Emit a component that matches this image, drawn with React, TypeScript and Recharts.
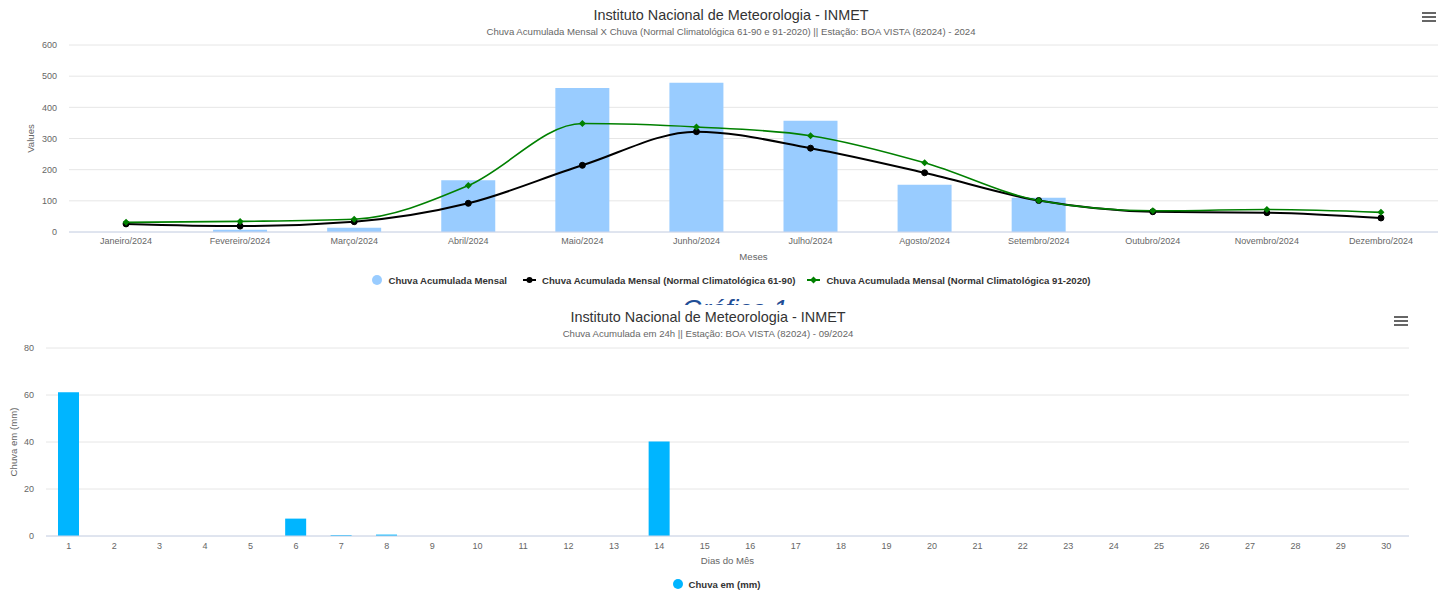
import { Bar, BarChart, CartesianGrid, ComposedChart, Line, XAxis, YAxis } from "recharts";

const meses = ["Janeiro/2024", "Fevereiro/2024", "Março/2024", "Abril/2024", "Maio/2024", "Junho/2024", "Julho/2024", "Agosto/2024", "Setembro/2024", "Outubro/2024", "Novembro/2024", "Dezembro/2024"];
const chuvaMensal = [0, 7, 14, 166, 462, 479, 357, 152, 110, 0, 0, 0];
const normal6190 = [26, 19, 33, 92, 214, 322, 269, 190, 101, 65, 62, 45];
const normal9120 = [31, 34, 41, 149, 348, 337, 309, 222, 101, 68, 72, 63];
const ticksMensal = [0, 100, 200, 300, 400, 500, 600];

const dias = ["1", "2", "3", "4", "5", "6", "7", "8", "9", "10", "11", "12", "13", "14", "15", "16", "17", "18", "19", "20", "21", "22", "23", "24", "25", "26", "27", "28", "29", "30"];
const chuvaDia = [61.2, 0, 0, 0, 0, 7.4, 0.4, 0.6, 0, 0, 0, 0, 0, 40.2, 0, 0, 0, 0, 0, 0, 0, 0, 0, 0, 0, 0, 0, 0, 0, 0];
const ticksDia = [0, 20, 40, 60, 80];

const FONT = "Arial, 'Liberation Sans', Helvetica, sans-serif";
const GREEN = "#008000";

const dataMensal = meses.map((mes, i) => ({
  mes,
  chuva: chuvaMensal[i],
  n6190: normal6190[i],
  n9120: normal9120[i],
}));

const dataDia = dias.map((dia, i) => ({ dia, chuva: chuvaDia[i] }));

const tick = { fontSize: 9, fill: "#666666", fontFamily: FONT };

function Diamond(props: any) {
  const { cx, cy } = props;
  if (cx == null || cy == null) return null;
  const r = 3.5;
  return <path d={`M${cx},${cy - r}L${cx + r},${cy}L${cx},${cy + r}L${cx - r},${cy}Z`} fill={GREEN}/>;
}

function Menu({ left, top }: { left: number, top: number }) {
  return (
    <div style={{ position: "absolute", left, top, width: 14 }}>
      {[0, 4, 8].map((y) => (
        <div key={y} style={{ position: "absolute", top: y, left: 0, width: 14, height: 2, background: "#666666" }}/>
      ))}
    </div>
  );
}

function Title({ top, center, title, subtitle }: { top: number, center: number, title: string, subtitle: string }) {
  return (
    <>
      <div style={{ position: "absolute", top, left: center - 400, width: 800, textAlign: "center", fontFamily: FONT, fontSize: 14.4, color: "#333333", lineHeight: "16px" }}>
        {title}
      </div>
      <div style={{ position: "absolute", top: top + 19, left: center - 400, width: 800, textAlign: "center", fontFamily: FONT, fontSize: 9.6, color: "#666666", lineHeight: "12px" }}>
        {subtitle}
      </div>
    </>
  );
}

const legendText = { fontFamily: FONT, fontSize: 9.6, fontWeight: "bold" as const, color: "#333333" };

export default function App() {
  return (
    <div style={{ position: "absolute", left: 0, top: 0, width: 1443, height: 590, background: "#ffffff", overflow: "hidden" }}>
      <Title top={7} center={731} title="Instituto Nacional de Meteorologia - INMET" subtitle="Chuva Acumulada Mensal X Chuva (Normal Climatológica 61-90 e 91-2020) || Estação: BOA VISTA (82024) - 2024"/>
      <Menu left={1422} top={12}/>

      <div style={{ position: "absolute", left: 0, top: 0 }}>
        <ComposedChart
          width={1443}
          height={262}
          data={dataMensal}
          margin={{ top: 45, right: 5, left: 0, bottom: 0 }}
          barCategoryGap={0}
        >
          <CartesianGrid vertical={false} stroke="#e6e6e6"/>
          <XAxis
            dataKey="mes"
            interval={0}
            height={30}
            tickLine={false}
            tickSize={0}
            tickMargin={6}
            axisLine={{ stroke: "#ccd6eb" }}
            tick={tick}
            label={{ value: "Meses", position: "insideBottom", offset: 2, style: { fontSize: 9.6, fill: "#666666", fontFamily: FONT } }}
          />
          <YAxis
            width={69}
            domain={[0, 600]}
            ticks={ticksMensal}
            tickLine={false}
            axisLine={false}
            tickSize={0}
            tickMargin={12}
            tick={tick}
            label={{ value: "Values", angle: -90, position: "insideLeft", offset: 31, style: { textAnchor: "middle", fontSize: 9.6, fill: "#666666", fontFamily: FONT } }}
          />
          <Bar dataKey="chuva" fill="#99ccff" barSize={54} isAnimationActive={false}/>
          <Line type="monotone" dataKey="n6190" stroke="#000000" strokeWidth={2} dot={{ r: 3, fill: "#000000", stroke: "#000000", strokeWidth: 1 }} isAnimationActive={false}/>
          <Line type="monotone" dataKey="n9120" stroke={GREEN} strokeWidth={1.6} dot={<Diamond/>} isAnimationActive={false}/>
        </ComposedChart>
      </div>

      <div style={{ position: "absolute", top: 274, left: 0, width: 1443, display: "flex", justifyContent: "center", alignItems: "center", paddingLeft: 20, boxSizing: "border-box", ...legendText }}>
        <svg width={12} height={12} style={{ marginRight: 4 }}><circle cx={5} cy={6} r={5} fill="#99ccff"/></svg>
        <span style={{ marginRight: 16 }}>Chuva Acumulada Mensal</span>
        <svg width={16} height={12} style={{ marginRight: 3 }}><line x1={0} y1={6} x2={13} y2={6} stroke="#000" strokeWidth={2}/><circle cx={6.5} cy={6} r={3} fill="#000"/></svg>
        <span style={{ marginRight: 12 }}>Chuva Acumulada Mensal (Normal Climatológica 61-90)</span>
        <svg width={16} height={12} style={{ marginRight: 3 }}><line x1={0} y1={6} x2={13} y2={6} stroke={GREEN} strokeWidth={2}/><path d="M6.5,2.5L10,6L6.5,9.5L3,6Z" fill={GREEN}/></svg>
        <span>Chuva Acumulada Mensal (Normal Climatológica 91-2020)</span>
      </div>

      <div style={{ position: "absolute", top: 295, left: 535, width: 400, height: 10, overflow: "hidden", textAlign: "center" }}>
        <div style={{ fontFamily: FONT, fontSize: 26, lineHeight: "26px", fontStyle: "italic", color: "#1f4e96", marginTop: 1 }}>Gráfico 1</div>
      </div>

      <Title top={309} center={708} title="Instituto Nacional de Meteorologia - INMET" subtitle="Chuva Acumulada em 24h || Estação: BOA VISTA (82024) - 09/2024"/>
      <Menu left={1394} top={316}/>

      <div style={{ position: "absolute", left: 0, top: 290 }}>
        <BarChart
          width={1443}
          height={280}
          data={dataDia}
          margin={{ top: 58, right: 34, left: 0, bottom: 0 }}
          barCategoryGap={0}
        >
          <CartesianGrid vertical={false} stroke="#e6e6e6"/>
          <XAxis
            dataKey="dia"
            interval={0}
            height={34}
            tickLine={false}
            tickSize={0}
            tickMargin={7}
            axisLine={{ stroke: "#ccd6eb" }}
            tick={tick}
            label={{ value: "Dias do Mês", position: "insideBottom", offset: 6, style: { fontSize: 9.6, fill: "#666666", fontFamily: FONT } }}
          />
          <YAxis
            width={46}
            domain={[0, 80]}
            ticks={ticksDia}
            tickLine={false}
            axisLine={false}
            tickSize={0}
            tickMargin={12}
            tick={tick}
            label={{ value: "Chuva em (mm)", angle: -90, position: "insideLeft", offset: 14, style: { textAnchor: "middle", fontSize: 9.6, fill: "#666666", fontFamily: FONT } }}
          />
          <Bar dataKey="chuva" fill="#00b5ff" barSize={21} isAnimationActive={false}/>
        </BarChart>
      </div>

      <div style={{ position: "absolute", top: 578, left: 0, width: 1443, display: "flex", justifyContent: "center", alignItems: "center", paddingRight: 10, boxSizing: "border-box", ...legendText }}>
        <svg width={12} height={12} style={{ marginRight: 4 }}><circle cx={5} cy={6} r={5} fill="#00b5ff"/></svg>
        <span>Chuva em (mm)</span>
      </div>
    </div>
  );
}
